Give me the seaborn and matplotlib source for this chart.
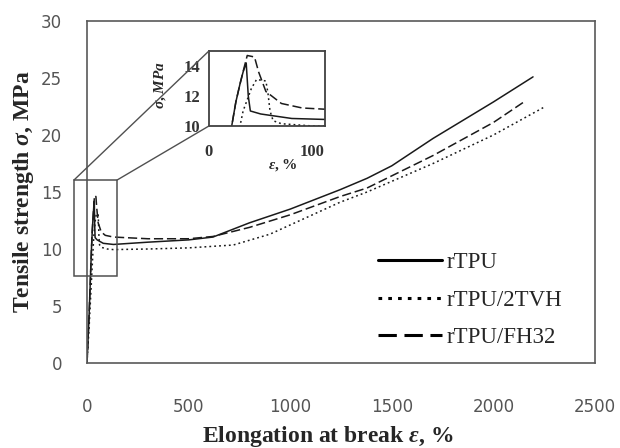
import matplotlib
matplotlib.use("Agg")
import matplotlib.pyplot as plt
import seaborn as sns
from matplotlib.patches import Rectangle, ConnectionPatch
from matplotlib.lines import Line2D

# Stress-strain curves (elongation %, strength MPa)
eps_rtpu = [0, 10, 22, 26, 30, 33, 36, 38, 40, 50, 80, 130, 300, 500, 620, 800, 1000, 1245, 1378, 1500, 1703, 2000, 2195]
sig_rtpu = [0, 4.0, 10.0, 11.6, 12.8, 13.6, 14.2, 12.0, 11.0, 10.8, 10.5, 10.4, 10.6, 10.8, 11.05, 12.3, 13.5, 15.2, 16.2, 17.3, 19.7, 22.9, 25.1]

eps_tvh = [0, 10, 30, 33, 41, 46, 55, 57, 59, 62, 70, 100, 130, 300, 500, 720, 900, 1048, 1245, 1378, 1703, 2000, 2245]
sig_tvh = [0, 3.0, 10.0, 11.0, 12.5, 13.1, 13.0, 12.2, 11.0, 10.35, 10.15, 10.0, 9.95, 10.0, 10.1, 10.35, 11.3, 12.5, 14.1, 15.0, 17.5, 20.0, 22.4]

eps_fh32 = [0, 10, 22, 26, 30, 34, 37, 44, 48, 55, 70, 90, 130, 300, 500, 620, 800, 1000, 1245, 1378, 1703, 2000, 2150]
sig_fh32 = [0, 4.0, 10.0, 11.6, 12.8, 13.9, 14.7, 14.6, 13.6, 12.3, 11.5, 11.2, 11.05, 10.9, 10.9, 11.1, 11.9, 13.0, 14.6, 15.35, 18.2, 21.1, 22.9]

series = [
    ("rTPU", eps_rtpu, sig_rtpu, "-"),
    ("rTPU/2TVH", eps_tvh, sig_tvh, (0, (1.2, 2.0))),
    ("rTPU/FH32", eps_fh32, sig_fh32, (0, (6, 2.5))),
]

x_ticks = [0, 500, 1000, 1500, 2000, 2500]
y_ticks = [0, 5, 10, 15, 20, 25, 30]
zoom_x = (-64, 148)
zoom_y = (7.6, 16.05)

sns.set_style("white")
plt.rcParams["font.family"] = ["DejaVu Sans"]
plt.rcParams["mathtext.fontset"] = "custom"
plt.rcParams["mathtext.it"] = "Liberation Serif:italic:bold"
plt.rcParams["mathtext.rm"] = "Liberation Serif:bold"

fig = plt.figure(figsize=(6.2, 4.48), dpi=100)
ax = fig.add_axes([0.1403, 0.1897, 0.8194, 0.7634])

for name, xs, ys, ls in series:
    sns.lineplot(x=xs, y=ys, ax=ax, sort=False, estimator=None, color="#1a1a1a",
                 linewidth=1.1, linestyle=ls)

ax.set_xlim(0, 2500)
ax.set_ylim(0, 30)
ax.set_xticks(x_ticks)
ax.set_yticks(y_ticks)
ax.tick_params(direction="in", length=4, width=1.1, color="#595959",
               labelsize=12, labelcolor="#555555")
ax.tick_params(axis="y", pad=18)
ax.tick_params(axis="x", pad=25)
for s in ax.spines.values():
    s.set_color("#595959")
    s.set_linewidth(1.2)

ax.set_xlabel(r"Elongation at break $\varepsilon$, %", fontfamily="Liberation Serif",
              fontweight="bold", fontsize=17)
ax.set_ylabel(r"Tensile strength $\sigma$, MPa", fontfamily="Liberation Serif",
              fontweight="bold", fontsize=17)
ax.xaxis.set_label_coords(0.474, -0.177)
ax.yaxis.set_label_coords(-0.100, 0.5)

# legend
handles = [Line2D([], [], color="black", linewidth=2.2, linestyle=ls) for _, _, _, ls in series]
ax.legend(handles, [s[0] for s in series], loc="upper left",
          bbox_to_anchor=(378 / 620, 1 - 252 / 448), bbox_transform=fig.transFigure,
          frameon=False, handlelength=2.8, handletextpad=0.2, labelspacing=0.72,
          borderpad=0, borderaxespad=0,
          prop={"family": "Liberation Serif", "size": 16.5})

# zoom rectangle on main axes
rect = Rectangle((zoom_x[0], zoom_y[0]), zoom_x[1] - zoom_x[0], zoom_y[1] - zoom_y[0],
                 fill=False, edgecolor="#505050", linewidth=1.1, clip_on=False, zorder=5)
ax.add_patch(rect)

# inset
ins = fig.add_axes([0.337, 0.7188, 0.187, 0.1674])
for name, xs, ys, ls in series:
    sns.lineplot(x=xs, y=ys, ax=ins, sort=False, estimator=None, color="#1a1a1a",
                 linewidth=1.1, linestyle=ls)
ins.set_xlim(0, 112)
ins.set_ylim(10, 15)
ins.set_xticks([0, 100])
ins.set_yticks([10, 12, 14])
ins.tick_params(axis="y", direction="in", length=3, color="#404040", pad=6,
                labelsize=12, labelcolor="#333333")
ins.tick_params(axis="x", length=0, pad=13, labelsize=12, labelcolor="#333333")
for lab in ins.get_xticklabels() + ins.get_yticklabels():
    lab.set_fontfamily("Liberation Serif")
    lab.set_fontweight("bold")
for s in ins.spines.values():
    s.set_color("#404040")
    s.set_linewidth(1.3)
ins.set_xlabel(r"$\varepsilon$, %", fontfamily="Liberation Serif", fontweight="bold", fontsize=11)
ins.set_ylabel(r"$\sigma$, $\mathit{MPa}$", fontfamily="Liberation Serif", fontweight="bold", fontsize=11)
ins.xaxis.set_label_coords(0.64, -0.42)
ins.yaxis.set_label_coords(-0.35, 0.55)

# connector lines
for xa, xb in [((zoom_x[0], zoom_y[1]), (0, 1)), ((zoom_x[1], zoom_y[1]), (0, 0))]:
    con = ConnectionPatch(xyA=xa, coordsA=ax.transData, xyB=xb, coordsB=ins.transAxes,
                          color="#505050", linewidth=1.0)
    fig.add_artist(con)

fig.savefig("out.png", dpi=100)
